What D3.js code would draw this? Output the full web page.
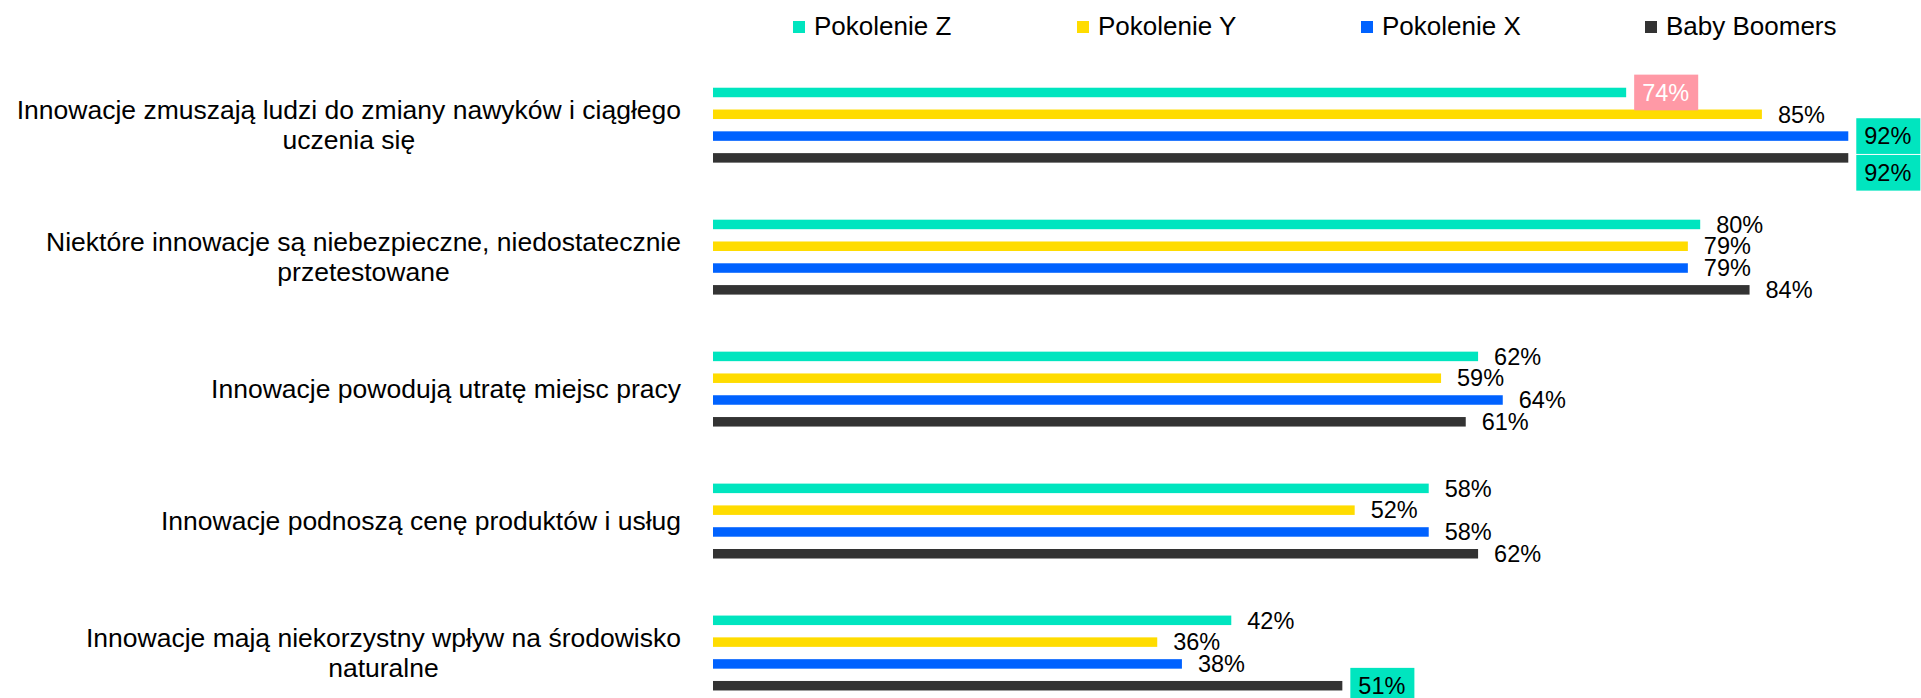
<!DOCTYPE html>
<html>
<head>
<meta charset="utf-8">
<script src="https://cdn.jsdelivr.net/npm/d3@7"></script>
<style>
  html, body { margin: 0; padding: 0; background: #ffffff; }
  svg { display: block; font-family: "Liberation Sans", Arial, sans-serif; }
</style>
</head>
<body>
<svg id="chart" width="1921" height="698"></svg>
<script>
// Statements (line breaks mark where each label wraps)
const categories = [
  "Innowacje zmuszają ludzi do zmiany nawyków i ciągłego\nuczenia się",
  "Niektóre innowacje są niebezpieczne, niedostatecznie\nprzetestowane",
  "Innowacje powodują utratę miejsc pracy",
  "Innowacje podnoszą cenę produktów i usług",
  "Innowacje mają niekorzystny wpływ na środowisko\nnaturalne"
];

// Generations (legend order, top-to-bottom within each group)
const seriesNames = ["Pokolenie Z", "Pokolenie Y", "Pokolenie X", "Baby Boomers"];

// Share of agreement, % per generation
const pokolenieZ  = [74, 80, 62, 58, 42];
const pokolenieY  = [85, 79, 59, 52, 36];
const pokolenieX  = [92, 79, 64, 58, 38];
const babyBoomers = [92, 84, 61, 62, 51];

const seriesValues = [pokolenieZ, pokolenieY, pokolenieX, babyBoomers];
const seriesColors = ["#00E5BF", "#FFDC00", "#0062FF", "#333333"];

// Value labels that get a coloured badge: [statement index, generation index, tone]
const highlightedLabels = [
  [0, 0, "low"],
  [0, 2, "high"],
  [0, 3, "high"],
  [4, 3, "high"]
];
const toneFill = { low: "#FF99A6", high: "#00E5BF" };
const toneText = { low: "#FFFFFF", high: "#000000" };

const svg = d3.select("#chart");

// ---- scales ----
const x = d3.scaleLinear().domain([0, 100]).range([713, 1947]);

const y0 = d3.scaleBand()
  .domain(d3.range(categories.length))
  .range([59.2, 719])
  .padding(0);

const innerStep = 21.8;
const y1 = d3.scaleBand()
  .domain(seriesNames)
  .range([y0.bandwidth() / 2 - 2 * innerStep, y0.bandwidth() / 2 + 2 * innerStep])
  .paddingInner(0.564)
  .paddingOuter(0.282);

// ---- legend ----
const legend = svg.append("g").attr("class", "legend");
const legendX = d3.scalePoint().domain(seriesNames).range([793, 793 + 3 * 284]);
seriesNames.forEach((name, i) => {
  const g = legend.append("g").attr("transform", `translate(${legendX(name)},0)`);
  g.append("rect")
    .attr("x", 0).attr("y", 21)
    .attr("width", 12).attr("height", 12)
    .attr("fill", seriesColors[i]);
  g.append("text")
    .attr("x", 21).attr("y", 35)
    .attr("font-size", 26)
    .attr("fill", "#000")
    .text(name);
});

// ---- category labels (lines centred, block right-aligned) ----
const labelRight = 681;
const lineGap = 30;
categories.forEach((cat, ci) => {
  const lines = cat.split("\n");
  const cy = y0(ci) + y0.bandwidth() / 2;
  const t = svg.append("text")
    .attr("font-size", 26.5)
    .attr("fill", "#000")
    .attr("text-anchor", "middle");
  const spans = lines.map((ln, li) =>
    t.append("tspan")
      .attr("y", cy + (li - (lines.length - 1) / 2) * lineGap)
      .attr("dy", "0.35em")
      .text(ln)
  );
  const maxW = d3.max(spans, s => s.node().getComputedTextLength());
  spans.forEach(s => s.attr("x", labelRight - maxW / 2));
});

// ---- bars ----
const groups = svg.append("g").selectAll("g")
  .data(categories)
  .join("g")
  .attr("transform", (d, ci) => `translate(0,${y0(ci)})`);

groups.each(function (cat, ci) {
  const g = d3.select(this);
  seriesNames.forEach((name, si) => {
    const v = seriesValues[si][ci];
    g.append("rect")
      .attr("x", x(0))
      .attr("y", y1(name))
      .attr("width", x(v) - x(0))
      .attr("height", y1.bandwidth())
      .attr("fill", seriesColors[si]);
  });
});

// ---- value labels ----
const labelLayer = svg.append("g");
const boxH = 35.7;
categories.forEach((cat, ci) => {
  let prevBoxBottom = -Infinity;
  seriesNames.forEach((name, si) => {
    const v = seriesValues[si][ci];
    let cy = y0(ci) + y1(name) + y1.bandwidth() / 2;
    const tx = x(v) + 16;
    const hl = highlightedLabels.find(h => h[0] === ci && h[1] === si);
    const g = labelLayer.append("g");
    const t = g.append("text")
      .attr("x", tx)
      .attr("font-size", 23.5)
      .attr("fill", hl ? toneText[hl[2]] : "#000")
      .text(v + "%");
    if (hl) {
      // keep stacked badges from overlapping
      if (cy - boxH / 2 < prevBoxBottom + 1) cy = prevBoxBottom + 1 + boxH / 2;
      const w = t.node().getComputedTextLength();
      g.insert("rect", "text")
        .attr("x", tx - 8)
        .attr("y", cy - boxH / 2)
        .attr("width", w + 17)
        .attr("height", boxH)
        .attr("fill", toneFill[hl[2]]);
      prevBoxBottom = cy + boxH / 2;
    }
    t.attr("y", cy).attr("dy", "0.35em");
  });
});
</script>
</body>
</html>
